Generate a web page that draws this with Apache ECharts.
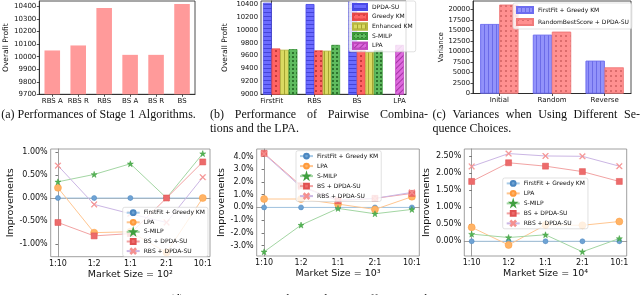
<!DOCTYPE html>
<html><head><meta charset="utf-8">
<script src="https://cdn.jsdelivr.net/npm/echarts@6/dist/echarts.min.js"></script>
<style>html,body{margin:0;padding:0;background:#fff}#c{width:640px;height:295px}</style>
</head><body><div id="c"></div>
<script>
// ---------- data ----------
const stage1Cats = ['RBS A', 'RBS R', 'RBS', 'BS A', 'BS R', 'BS'];
const stage1Profit = [10050, 10090, 10390, 10015, 10015, 10421];

const pairCats = ['FirstFit', 'RBS', 'BS', 'LPA'];
const pairDPDA = [10420, 10400, 10440, null];
const pairGreedyKM = [9710, 9680, 9680, null];
const pairEnhancedKM = [9690, 9675, 9655, null];
const pairSMILP = [9700, 9765, 9685, null];
const pairLPA = [null, null, null, 9765];

const seqCats = ['Initial', 'Random', 'Reverse'];
const seqFirstFitGreedy = [16500, 13950, 7770];
const seqRandomBestDPDA = [21100, 14670, 6190];

const marketCats = ['1:10', '1:2', '1:1', '2:1', '10:1'];
const m2FirstFit = [0, 0, 0, 0, 0];
const m2LPA = [0.22, -0.75, -0.73, -1.18, 0.0];
const m2SMILP = [0.35, 0.51, 0.74, 0.0, 0.96];
const m2BS = [-0.53, -0.82, -0.77, 0.0, 0.78];
const m2RBS = [0.70, -0.14, -0.34, -0.53, 0.45];

const m3FirstFit = [0, 0, 0, 0, 0];
const m3LPA = [0.66, 0.66, 0.26, -0.16, 0.84];
const m3SMILP = [-3.49, -1.39, -0.08, -0.50, -0.16];
const m3BS = [4.25, 1.70, 0.52, 0.71, 1.10];
const m3RBS = [4.20, 1.60, 0.58, 0.71, 1.18];

const m4FirstFit = [0, 0, 0, 0, 0];
const m4LPA = [0.41, -0.11, 0.48, 0.47, 0.58];
const m4SMILP = [0.21, 0.11, 0.19, -0.31, 0.08];
const m4BS = [1.76, 2.31, 2.21, 2.05, 1.76];
const m4RBS = [2.20, 2.58, 2.51, 2.50, 2.21];

const ticksD1 = [-1, -0.5, 0, 0.5, 1];
const ticksD2 = [-3, -2, -1, 0, 1, 2, 3, 4];
const ticksD3 = [0, 0.5, 1, 1.5, 2, 2.5];

// ---------- helpers ----------
const FONT = 'DejaVu Sans';
function xCat(gi, cats, fs, col) {
  return {
    type: 'category', gridIndex: gi, data: cats,
    axisLine: { show: true, lineStyle: { color: col, width: 0.8 } },
    axisTick: { show: true, alignWithLabel: true, length: 2.5, lineStyle: { color: col, width: 0.8 } },
    axisLabel: { color: '#111', fontSize: fs, fontFamily: FONT, margin: 3, interval: 0 },
    splitLine: { show: false }
  };
}
function xVal(gi, min, max, ticks, cats, fs, col, name) {
  return {
    type: 'value', gridIndex: gi, min, max,
    name: name || '', nameLocation: 'middle', nameGap: 13,
    nameTextStyle: { color: '#111', fontFamily: FONT, fontSize: 9.5 },
    axisLine: { show: true, lineStyle: { color: col, width: 0.8 } },
    axisTick: { show: true, customValues: ticks, length: 2.5, lineStyle: { color: col, width: 0.8 } },
    axisLabel: { color: '#111', fontSize: fs, fontFamily: FONT, margin: 3, customValues: ticks,
      formatter: v => cats[Math.round(v)] },
    splitLine: { show: false }
  };
}
function yInt(gi, min, max, interval, fs, col, name, gap, nfs) {
  return {
    type: 'value', gridIndex: gi, min, max, interval,
    name, nameLocation: 'middle', nameGap: gap,
    nameTextStyle: { color: '#111', fontFamily: FONT, fontSize: nfs },
    axisLine: { show: true, lineStyle: { color: col, width: 0.8 } },
    axisTick: { show: true, length: 2.5, lineStyle: { color: col, width: 0.8 } },
    axisLabel: { color: '#111', fontSize: fs, fontFamily: FONT, margin: 3, showMaxLabel: false,
      formatter: v => String(v) },
    splitLine: { show: false }
  };
}
function yPct(gi, min, max, ticks, digits, gap) {
  const col = '#888';
  return {
    type: 'value', gridIndex: gi, min, max,
    name: 'Improvements', nameLocation: 'middle', nameGap: gap,
    nameTextStyle: { color: '#111', fontFamily: FONT, fontSize: 9.5 },
    axisLine: { show: true, lineStyle: { color: col, width: 0.8 } },
    axisTick: { show: true, customValues: ticks, length: 2.5, lineStyle: { color: '#555', width: 0.8 } },
    axisLabel: { color: '#111', fontSize: 8, fontFamily: FONT, margin: 3, customValues: ticks,
      formatter: v => v.toFixed(digits) + '%' },
    splitLine: { show: false }
  };
}

// bar decals (hatches)
const hatchH = { symbol: 'rect', symbolSize: 1, dashArrayX: [1, 0], dashArrayY: [1, 2.5], color: 'rgba(20,20,170,0.45)' };
const hatchDots = { symbol: 'circle', symbolSize: 1, dashArrayX: [1.3, 2.7], dashArrayY: [1.3, 2.7], color: 'rgba(120,0,0,0.55)' };
const hatchV = { symbol: 'rect', symbolSize: 1, dashArrayX: [1, 2.5], dashArrayY: [1, 0], color: 'rgba(110,110,0,0.5)' };
const hatchBigDots = { symbol: 'circle', symbolSize: 1, dashArrayX: [1.6, 1.6], dashArrayY: [1.6, 1.6], color: 'rgba(0,50,0,0.7)' };
const hatchDiag = { symbol: 'rect', symbolSize: 1, dashArrayX: [1, 0], dashArrayY: [1, 3], rotation: -Math.PI / 4, color: 'rgba(110,0,110,0.5)' };
const hatchV2 = { symbol: 'rect', symbolSize: 1, dashArrayX: [1, 2.5], dashArrayY: [1, 0], color: 'rgba(60,60,210,0.45)' };
const hatchDots2 = { symbol: 'circle', symbolSize: 1, dashArrayX: [1.2, 2.8], dashArrayY: [1.2, 2.8], color: 'rgba(170,60,60,0.55)' };

// pair chart: bar offsets relative to group tick (layout)
const pairOffsets = [-0.1, 0.1, 0.3, 0.5];
function pairData(vals, off) {
  const out = [];
  vals.forEach((v, i) => { if (v != null) out.push([i + off, v]); });
  return out;
}
function pairBar(name, vals, off, color, edge, decal) {
  return { type: 'bar', name, xAxisIndex: 1, yAxisIndex: 1, data: pairData(vals, off),
    barWidth: 8.5, barGap: '-100%',
    itemStyle: { color, borderColor: edge, borderWidth: 0.5, decal } };
}

const lineStyles = {
  ff:  { symbol: 'circle', size: 5, fill: '#6fa3d4', border: '#4a86c0', line: '#a8cbe8' },
  lpa: { symbol: 'circle', size: 7, fill: '#ffb366', border: '#ff9a3a', line: '#ffc690' },
  smilp: { symbol: 'path://M5,0L6.18,3.62L10,3.62L6.91,5.86L8.09,9.51L5,7.27L1.91,9.51L3.09,5.86L0,3.62L3.82,3.62Z', size: 6, fill: '#55b455', border: '#3f9f3f', line: '#a3d6a3' },
  bs:  { symbol: 'rect', size: 6, fill: '#ec6b6b', border: '#e05050', line: '#f2a3a3' },
  rbs: { symbol: 'path://M0,1L1,0L5,4L9,0L10,1L6,5L10,9L9,10L5,6L1,10L0,9L4,5Z', size: 6, fill: '#f49090', border: '#f49090', line: '#cbb6e4' }
};
const dNames = { ff: 'FirstFit + Greedy KM', lpa: 'LPA', smilp: 'S-MILP', bs: 'BS + DPDA-SU', rbs: 'RBS + DPDA-SU' };
function lineSeries(key, vals, gi) {
  const s = lineStyles[key];
  return { type: 'line', name: dNames[key] + '#d', xAxisIndex: gi, yAxisIndex: gi,
    data: vals.map((v, i) => [i, v]), symbol: s.symbol, symbolSize: s.size,
    lineStyle: { color: s.line, width: 1 },
    itemStyle: { color: s.fill, borderColor: s.border, borderWidth: 0.5 } };
}
function dLegend(left, top, gap) {
  return { orient: 'vertical', left, top, data: Object.values(dNames).map(n => n + '#d'),
    formatter: n => n.split('#')[0], itemWidth: 13, itemHeight: 6, itemGap: gap,
    textStyle: { fontSize: 6, fontFamily: FONT, color: '#111', padding: [0, 0, 0, -1] },
    padding: [2, 3, 2, 3], backgroundColor: 'rgba(255,255,255,0.8)', borderColor: '#ccc', borderWidth: 0.6, borderRadius: 2 };
}

// captions
const meas = document.createElement('canvas').getContext('2d');
const CAPFONT = '12px "Liberation Serif"';
function capLine(text, x0, x1, y, mode) {
  meas.font = CAPFONT;
  if (mode !== 'justify') {
    return [{ type: 'text', x: x0, y, style: { text, font: CAPFONT, fill: '#111', align: mode || 'left', verticalAlign: 'middle' } }];
  }
  const words = text.split(' ');
  const ws = words.map(w => meas.measureText(w).width);
  const gap = (x1 - x0 - ws.reduce((a, b) => a + b, 0)) / (words.length - 1);
  let x = x0; const out = [];
  words.forEach((w, i) => { out.push({ type: 'text', x, y, style: { text: w, font: CAPFONT, fill: '#111', align: 'left', verticalAlign: 'middle' } }); x += ws[i] + gap; });
  return out;
}
const captions = [].concat(
  capLine('(a) Performances of Stage 1 Algorithms.', 98.5, 0, 114.5, 'center'),
  capLine('(b) Performance of Pairwise Combina-', 210, 428, 114.5, 'justify'),
  capLine('tions and the LPA.', 210, 0, 128.5),
  capLine('(c) Variances when Using Different Se-', 432.5, 640, 114.5, 'justify'),
  capLine('quence Choices.', 432.5, 0, 128.5),
  capLine('(d) Improvements over the Baseline in Different Market Sizes.', 320, 0, 299.5, 'center')
);

const chart = echarts.init(document.getElementById('c'));
const BOX = '#222';
chart.setOption({
  animation: false,
  backgroundColor: '#fff',
  textStyle: { fontFamily: FONT },
  grid: [
    { left: 39.3, top: 1, width: 155.7, height: 93.3, show: true, borderColor: BOX, borderWidth: 0.8 },
    { left: 261, top: 1, width: 145, height: 93.3, show: true, borderColor: BOX, borderWidth: 0.8 },
    { left: 473, top: 1, width: 158, height: 92.5, show: true, borderColor: BOX, borderWidth: 0.8 },
    { left: 50.7, top: 149, width: 159.3, height: 107.7, show: true, borderColor: '#888', borderWidth: 0.8 },
    { left: 256.7, top: 149, width: 162.6, height: 107, show: true, borderColor: '#888', borderWidth: 0.8 },
    { left: 464.3, top: 149, width: 162.4, height: 107, show: true, borderColor: '#888', borderWidth: 0.8 }
  ],
  xAxis: [
    xCat(0, stage1Cats, 7, BOX),
    xVal(1, -0.25, 3.15, [0, 1, 2, 3], pairCats, 7, BOX),
    xCat(2, seqCats, 7, BOX),
    xVal(3, -0.2, 4.2, [0, 1, 2, 3, 4], marketCats, 8, '#888', 'Market Size = 10\u00b2'),
    xVal(4, -0.2, 4.2, [0, 1, 2, 3, 4], marketCats, 8, '#888', 'Market Size = 10\u00b3'),
    xVal(5, -0.2, 4.2, [0, 1, 2, 3, 4], marketCats, 8, '#888', 'Market Size = 10\u2074')
  ],
  yAxis: [
    yInt(0, 9700, 10445, 100, 7, BOX, 'Overall Profit', 27.5, 7.5),
    yInt(1, 9000, 10450, 200, 6.8, BOX, 'Overall Profit', 32, 7.5),
    yInt(2, 0, 22000, 2500, 6.8, BOX, 'Variance', 25.5, 7),
    yPct(3, -1.27, 1.06, ticksD1, 2, 33),
    yPct(4, -3.82, 4.59, ticksD2, 1, 27),
    yPct(5, -0.434, 2.715, ticksD3, 2, 29.5)
  ],
  legend: [
    { orient: 'vertical', left: 349, top: 1, data: ['DPDA-SU', 'Greedy KM', 'Enhanced KM', 'S-MILP', 'LPA'],
      icon: 'rect', itemWidth: 14, itemHeight: 6, itemGap: 1.7,
      textStyle: { fontSize: 6, fontFamily: FONT, color: '#111' },
      padding: [2, 3, 2, 3], backgroundColor: 'rgba(255,255,255,0.8)', borderColor: '#ccc', borderWidth: 0.6, borderRadius: 2 },
    { orient: 'vertical', left: 513, top: 3, data: ['FirstFit + Greedy KM', 'RandomBestScore + DPDA-SU'],
      icon: 'rect', itemWidth: 16, itemHeight: 6, itemGap: 4,
      textStyle: { fontSize: 6, fontFamily: FONT, color: '#111' },
      padding: [3, 3, 3, 3], backgroundColor: 'rgba(255,255,255,0.8)', borderColor: '#ccc', borderWidth: 0.6, borderRadius: 2 },
    dLegend(122.7, 207.3, 2.8),
    dLegend(296, 150.7, 3.2),
    dLegend(502.7, 178, 3.2)
  ],
  series: [
    { type: 'bar', name: 'stage1', xAxisIndex: 0, yAxisIndex: 0, data: stage1Profit, barWidth: '60%',
      itemStyle: { color: '#ff9a9a' } },
    pairBar('DPDA-SU', pairDPDA, pairOffsets[0], '#6b6bff', '#4b4be8', hatchH),
    pairBar('Greedy KM', pairGreedyKM, pairOffsets[1], '#ff6464', '#e84848', hatchDots),
    pairBar('Enhanced KM', pairEnhancedKM, pairOffsets[2], '#dada62', '#b8b840', hatchV),
    pairBar('S-MILP', pairSMILP, pairOffsets[3], '#5fbb5f', '#3c9a3c', hatchBigDots),
    pairBar('LPA', pairLPA, 0, '#dd68dd', '#c048c0', hatchDiag),
    { type: 'bar', name: 'FirstFit + Greedy KM', xAxisIndex: 2, yAxisIndex: 2, data: seqFirstFitGreedy,
      barWidth: 19, barGap: '0%', itemStyle: { color: '#9292fa', borderColor: '#6c6cf0', borderWidth: 0.6, decal: hatchV2 } },
    { type: 'bar', name: 'RandomBestScore + DPDA-SU', xAxisIndex: 2, yAxisIndex: 2, data: seqRandomBestDPDA,
      barWidth: 19, barGap: '0%', itemStyle: { color: '#ff9090', borderColor: '#f07a7a', borderWidth: 0.6, decal: hatchDots2 } },
    lineSeries('ff', m2FirstFit, 3), lineSeries('lpa', m2LPA, 3), lineSeries('smilp', m2SMILP, 3), lineSeries('bs', m2BS, 3), lineSeries('rbs', m2RBS, 3),
    lineSeries('ff', m3FirstFit, 4), lineSeries('lpa', m3LPA, 4), lineSeries('smilp', m3SMILP, 4), lineSeries('bs', m3BS, 4), lineSeries('rbs', m3RBS, 4),
    lineSeries('ff', m4FirstFit, 5), lineSeries('lpa', m4LPA, 5), lineSeries('smilp', m4SMILP, 5), lineSeries('bs', m4BS, 5), lineSeries('rbs', m4RBS, 5)
  ],
  graphic: captions
});
</script></body></html>
